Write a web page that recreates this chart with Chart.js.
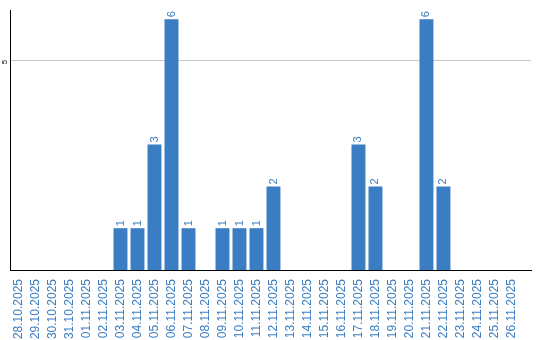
<!DOCTYPE html>
<html>
<head>
<meta charset="utf-8">
<script src="https://cdn.jsdelivr.net/npm/chart.js@4/dist/chart.umd.min.js"></script>
<style>
  html, body { margin: 0; padding: 0; background: #fff; }
  #wrap { width: 540px; height: 340px; }
</style>
</head>
<body>
<div id="wrap"><canvas id="grafico" width="540" height="340"></canvas></div>
<script>
const dias = [
  "28.10.2025", "29.10.2025", "30.10.2025", "31.10.2025", "01.11.2025",
  "02.11.2025", "03.11.2025", "04.11.2025", "05.11.2025", "06.11.2025",
  "07.11.2025", "08.11.2025", "09.11.2025", "10.11.2025", "11.11.2025",
  "12.11.2025", "13.11.2025", "14.11.2025", "15.11.2025", "16.11.2025",
  "17.11.2025", "18.11.2025", "19.11.2025", "20.11.2025", "21.11.2025",
  "22.11.2025", "23.11.2025", "24.11.2025", "25.11.2025", "26.11.2025"
];
const valores = [
  0, 0, 0, 0, 0, 0, 1, 1, 3, 6,
  1, 0, 1, 1, 1, 2, 0, 0, 0, 0,
  3, 2, 0, 0, 6, 2, 0, 0, 0, 0
];
const ticksY = [5];

const azul = "#3b7dc2";
const fonte = "'Liberation Sans', Arial, sans-serif";

// rótulos girados: valores das barras e o tick do eixo Y
const rotulos = {
  id: "rotulos",
  afterDatasetsDraw(chart) {
    const ctx = chart.ctx;
    const meta = chart.getDatasetMeta(0);
    ctx.save();
    ctx.fillStyle = azul;
    ctx.font = "11px " + fonte;
    ctx.textAlign = "left";
    ctx.textBaseline = "middle";
    meta.data.forEach((barra, i) => {
      const v = valores[i];
      if (!v) return;
      ctx.save();
      ctx.translate(barra.x, barra.y - 2);
      ctx.rotate(-Math.PI / 2);
      ctx.fillText(String(v), 0, 0);
      ctx.restore();
    });

    const y = chart.scales.y;
    ctx.fillStyle = "#000";
    ctx.font = "8px " + fonte;
    ctx.textAlign = "center";
    ticksY.forEach((t) => {
      ctx.save();
      ctx.translate(5, y.getPixelForValue(t) + 1);
      ctx.rotate(-Math.PI / 2);
      ctx.fillText(String(t), 0, 0);
      ctx.restore();
    });
    ctx.restore();
  }
};

new Chart(document.getElementById("grafico"), {
  type: "bar",
  data: {
    labels: dias,
    datasets: [{
      data: valores,
      backgroundColor: azul,
      borderWidth: 0,
      barPercentage: 0.82,
      categoryPercentage: 1
    }]
  },
  options: {
    responsive: false,
    animation: false,
    layout: { padding: { top: 10, right: 9, left: 0, bottom: 0 } },
    plugins: {
      legend: { display: false },
      tooltip: { enabled: false }
    },
    scales: {
      x: {
        // o eixo do original sobra um pouco à direita da última categoria
        afterBuildTicks: (s) => { s._valueRange = dias.length + 0.65; },
        afterFit: (s) => { s.height = 70; },
        grid: { display: false },
        border: { display: true, color: "#000", width: 1 },
        ticks: {
          color: azul,
          minRotation: 90,
          maxRotation: 90,
          autoSkip: false,
          padding: 1,
          font: { size: 12, family: fonte }
        }
      },
      y: {
        min: 0,
        max: 6.22,
        afterBuildTicks: (s) => {
          s.ticks = ticksY.map((v) => ({ value: v }));
        },
        afterFit: (s) => { s.width = 10; },
        grid: { color: "#c8c8c8", drawTicks: false },
        border: { display: true, color: "#000", width: 1 },
        ticks: { display: false }
      }
    }
  },
  plugins: [rotulos]
});
</script>
</body>
</html>
